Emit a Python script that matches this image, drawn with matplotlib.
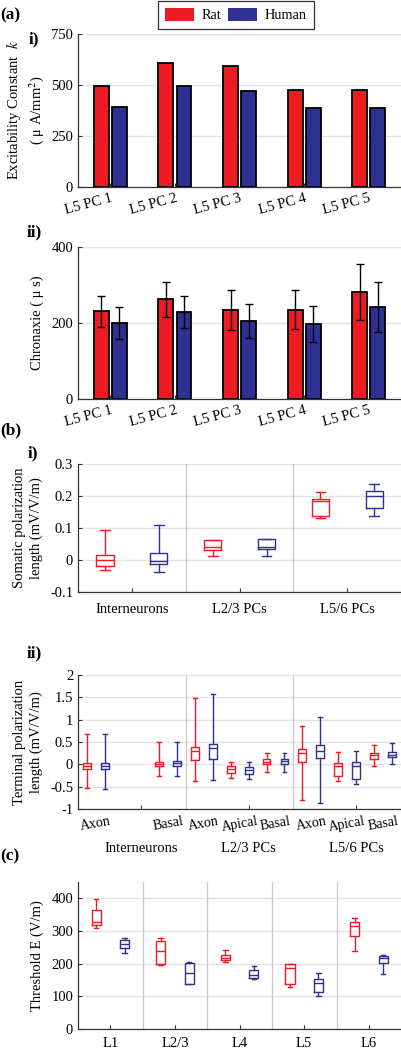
import numpy as np
import matplotlib
matplotlib.use('Agg')
import matplotlib.pyplot as plt
from matplotlib.patches import Patch

plt.rcParams['font.family'] = ['Liberation Serif', 'DejaVu Serif']
plt.rcParams['mathtext.fontset'] = 'stix'
plt.rcParams['font.size'] = 10

RED = '#ed1c24'
BLUE = '#2e3192'
GRID = '#e3e3e3'
SEP = '#c8c8c8'

# (a) i) excitability constant k
cells = ['L5 PC 1', 'L5 PC 2', 'L5 PC 3', 'L5 PC 4', 'L5 PC 5']
k_rat = [495, 609, 592, 475, 474]
k_human = [392, 497, 470, 389, 386]

# (a) ii) chronaxie
chron_rat = [231, 262, 234, 235, 281]
chron_rat_err = [41, 45, 52, 51, 74]
chron_human = [200, 229, 206, 197, 242]
chron_human_err = [43, 42, 45, 47, 65]

# (b) i) somatic polarization length: whislo, q1, med, q3, whishi
soma_groups = ['Interneurons', 'L2/3 PCs', 'L5/6 PCs']
soma_rat = [[-0.031, -0.020, -0.001, 0.017, 0.094],
            [0.014, 0.032, 0.042, 0.063, 0.063],
            [0.130, 0.136, 0.184, 0.191, 0.212]]
soma_human = [[-0.036, -0.012, -0.002, 0.022, 0.108],
              [0.013, 0.035, 0.042, 0.066, 0.066],
              [0.139, 0.161, 0.200, 0.217, 0.238]]

# (b) ii) terminal polarization length, 9 slots (empty slot = None)
term_sub = ['Axon', '', 'Basal', 'Axon', 'Apical', 'Basal', 'Axon', 'Apical', 'Basal']
term_groups = ['Interneurons', 'L2/3 PCs', 'L5/6 PCs']
term_rat = [[-0.54, -0.10, -0.03, 0.04, 0.67],
            None,
            [-0.25, -0.04, 0.01, 0.06, 0.49],
            [-0.37, 0.10, 0.30, 0.40, 1.49],
            [-0.30, -0.20, -0.11, -0.04, 0.06],
            [-0.16, 0.00, 0.06, 0.12, 0.25],
            [-0.80, 0.05, 0.25, 0.35, 0.87],
            [-0.37, -0.26, -0.04, 0.04, 0.27],
            [-0.04, 0.13, 0.21, 0.26, 0.43]]
term_human = [[-0.56, -0.10, -0.04, 0.04, 0.69],
              None,
              [-0.25, -0.04, 0.02, 0.07, 0.51],
              [-0.34, 0.12, 0.36, 0.46, 1.57],
              [-0.33, -0.22, -0.13, -0.05, 0.06],
              [-0.16, 0.00, 0.08, 0.12, 0.25],
              [-0.87, 0.15, 0.30, 0.43, 1.05],
              [-0.43, -0.32, -0.04, 0.05, 0.30],
              [0.00, 0.17, 0.21, 0.28, 0.47]]

# (c) threshold E by layer
layers = ['L1', 'L2/3', 'L4', 'L5', 'L6']
thr_rat = [[310, 317, 327, 364, 398],
           [197, 200, 239, 268, 279],
           [205, 210, 217, 227, 243],
           [129, 137, 187, 200, 200],
           [239, 284, 315, 327, 339]]
thr_human = [[234, 249, 261, 271, 278],
             [137, 137, 171, 202, 205],
             [154, 157, 164, 180, 192],
             [100, 113, 141, 154, 172],
             [168, 203, 218, 222, 227]]


def to_stats(rows):
    out = []
    for r in rows:
        out.append(dict(whislo=r[0], q1=r[1], med=r[2], q3=r[3], whishi=r[4], fliers=[]))
    return out


def style(ax):
    for s in ['top', 'right']:
        ax.spines[s].set_visible(False)
    for s in ['left', 'bottom']:
        ax.spines[s].set_color('#333333')
        ax.spines[s].set_linewidth(0.9)
    ax.yaxis.grid(True, color=GRID, linewidth=1.0)
    ax.set_axisbelow(True)
    ax.tick_params(direction='in', length=3, width=0.8, color='#333333', labelsize=10.5)


def boxes(ax, rows, pos, color, width, cap):
    keep = [(p, r) for p, r in zip(pos, rows) if r is not None]
    ps = [p for p, r in keep]
    st = to_stats([r for p, r in keep])
    lp = dict(color=color, linewidth=1.0)
    ax.bxp(st, positions=ps, widths=width, capwidths=cap, showfliers=False,
           boxprops=lp, whiskerprops=lp, capprops=lp, medianprops=lp,
           manage_ticks=False)


fig = plt.figure(figsize=(4.02, 10.5), dpi=100)
W = 0.804
L = 0.194
LBL = 10.5

# ---- (a) i)
ax1 = fig.add_axes([L, 0.8219, W, 0.1457])
style(ax1)
x = np.arange(1, 6)
ax1.bar(x - 0.14, k_rat, 0.23, color=RED, edgecolor='black', linewidth=1.3)
ax1.bar(x + 0.14, k_human, 0.23, color=BLUE, edgecolor='black', linewidth=1.3)
ax1.set_xlim(0.5, 5.5)
ax1.set_ylim(0, 750)
ax1.set_yticks([0, 250, 500, 750])
ax1.set_xticks(x, cells, rotation=15, ha='right', rotation_mode='anchor')
# two-line y label drawn as two rotated texts
ax1.text(-0.198, 0.5, 'Excitability Constant  $k$', rotation=90, fontsize=LBL,
         ha='center', va='center', transform=ax1.transAxes)
ax1.text(-0.128, 0.5, '( μ A/mm$^2$)', rotation=90, fontsize=LBL,
         ha='center', va='center', transform=ax1.transAxes)

# ---- (a) ii)
ax2 = fig.add_axes([L, 0.62, W, 0.1448])
style(ax2)
ax2.bar(x - 0.14, chron_rat, 0.23, color=RED, edgecolor='black', linewidth=1.3,
        yerr=chron_rat_err, capsize=3, error_kw=dict(elinewidth=1, capthick=1))
ax2.bar(x + 0.14, chron_human, 0.23, color=BLUE, edgecolor='black', linewidth=1.3,
        yerr=chron_human_err, capsize=3, error_kw=dict(elinewidth=1, capthick=1))
ax2.set_xlim(0.5, 5.5)
ax2.set_ylim(0, 400)
ax2.set_yticks([0, 200, 400])
ax2.set_xticks(x, cells, rotation=15, ha='right', rotation_mode='anchor')
ax2.set_ylabel('Chronaxie ( μ s)', fontsize=LBL)
ax2.yaxis.set_label_coords(-0.105, 0.5)

# ---- (b) i)
ax3 = fig.add_axes([L, 0.4362, W, 0.1219])
style(ax3)
c3 = np.arange(3) + 0.5
boxes(ax3, soma_rat, c3 - 0.25, RED, 0.16, 0.09)
boxes(ax3, soma_human, c3 + 0.25, BLUE, 0.16, 0.09)
for s in [1, 2]:
    ax3.axvline(s, color=SEP, linewidth=0.9)
ax3.set_xlim(0, 3)
ax3.set_ylim(-0.1, 0.3)
ax3.set_yticks([-0.1, 0, 0.1, 0.2, 0.3], ['-0.1', '0', '0.1', '0.2', '0.3'])
ax3.set_xticks(c3, soma_groups)
ax3.tick_params(axis='x', pad=8)
ax3.set_ylabel('Somatic polarization\nlength (mV/V/m)', fontsize=LBL, linespacing=1.35)
ax3.yaxis.set_label_coords(-0.108, 0.5)

# ---- (b) ii)
ax4 = fig.add_axes([L, 0.2295, W, 0.1276])
style(ax4)
c4 = np.arange(9) + 0.5
boxes(ax4, term_rat, c4 - 0.25, RED, 0.22, 0.11)
boxes(ax4, term_human, c4 + 0.25, BLUE, 0.22, 0.11)
for s in [3, 6]:
    ax4.axvline(s, color=SEP, linewidth=0.9)
ax4.set_xlim(0, 9)
ax4.set_ylim(-1, 2)
ax4.set_yticks([-1, -0.5, 0, 0.5, 1, 1.5, 2], ['-1', '-0.5', '0', '0.5', '1', '1.5', '2'])
ax4.set_xticks(c4, term_sub, rotation=10)
ax4.tick_params(axis='x', which='major', length=0, pad=4, labelsize=10)
ax4.set_xticks([1.75, 4.75, 7.75], term_groups, minor=True)
ax4.tick_params(axis='x', which='minor', direction='in', length=3, pad=24, labelsize=10.5)
ax4.set_ylabel('Terminal polarization\nlength (mV/V/m)', fontsize=LBL, linespacing=1.35)
ax4.yaxis.set_label_coords(-0.108, 0.5)

# ---- (c)
ax5 = fig.add_axes([L, 0.02, W, 0.14])
style(ax5)
c5 = np.arange(5) + 0.5
boxes(ax5, thr_rat, c5 - 0.22, RED, 0.14, 0.07)
boxes(ax5, thr_human, c5 + 0.22, BLUE, 0.14, 0.07)
for s in [1, 2, 3, 4]:
    ax5.axvline(s, color=SEP, linewidth=0.9)
ax5.set_xlim(0, 5)
ax5.set_ylim(0, 450)
ax5.set_yticks([0, 100, 200, 300, 400])
ax5.set_xticks(c5, layers)
ax5.tick_params(axis='x', pad=6)
ax5.set_ylabel('Threshold E (V/m)', fontsize=LBL)
ax5.yaxis.set_label_coords(-0.105, 0.5)

# panel letters
fig.text(0.0, 1 - 15 / 1050, '(a)', fontsize=12.5, fontweight='bold', va='center')
fig.text(29 / 402, 1 - 39 / 1050, 'i)', fontsize=12.5, fontweight='bold', va='center')
fig.text(27 / 402, 1 - 232 / 1050, 'ii)', fontsize=12.5, fontweight='bold', va='center')
fig.text(0.0, 1 - 430 / 1050, '(b)', fontsize=12.5, fontweight='bold', va='center')
fig.text(28 / 402, 1 - 453 / 1050, 'i)', fontsize=12.5, fontweight='bold', va='center')
fig.text(27 / 402, 1 - 653 / 1050, 'ii)', fontsize=12.5, fontweight='bold', va='center')
fig.text(0.0, 1 - 856 / 1050, '(c)', fontsize=12.5, fontweight='bold', va='center')

handles = [Patch(facecolor=RED, edgecolor='none', label='Rat'),
           Patch(facecolor=BLUE, edgecolor='none', label='Human')]
leg = fig.legend(handles=handles, loc='upper center', bbox_to_anchor=(236 / 402, 1.0),
                 ncol=2, fancybox=False, edgecolor='black', fontsize=10.3,
                 handlelength=2.0, handleheight=1.0, columnspacing=0.45,
                 handletextpad=0.55, borderpad=0.5, borderaxespad=0.05)
leg.get_frame().set_linewidth(0.9)

fig.savefig('out.png', dpi=100)
